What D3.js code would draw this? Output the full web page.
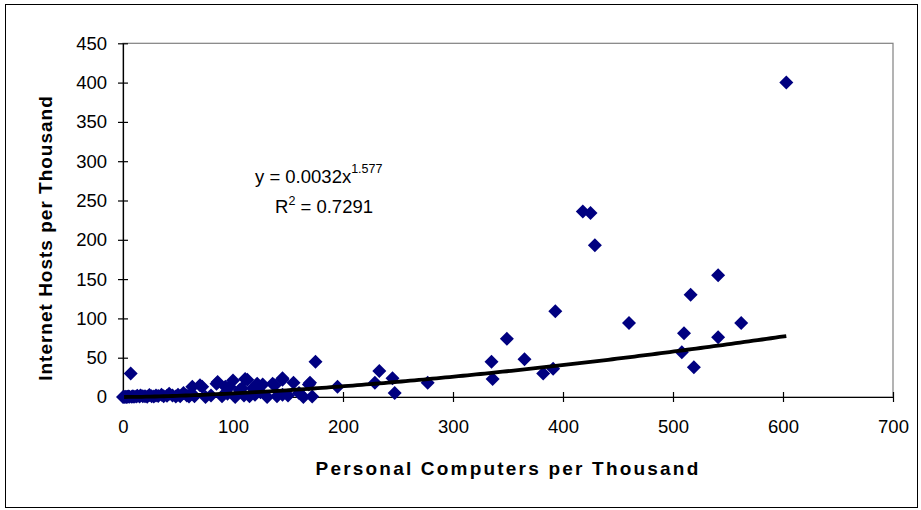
<!DOCTYPE html>
<html>
<head>
<meta charset="utf-8">
<script src="https://cdn.jsdelivr.net/npm/d3@7"></script>
<style>
  html, body { margin: 0; padding: 0; background: #fff; }
  svg { display: block; font-family: Arial, "Liberation Sans", sans-serif; }
</style>
</head>
<body>
<svg id="chart" width="921" height="510"></svg>
<script>
// ---- Data ----
const pcPerThousand = [
  0, 1, 2, 3, 4, 5, 6, 7, 8, 9, 10, 12, 13, 15, 16, 18, 20, 22, 24, 26, 28, 30, 32, 35, 37, 40, 42, 45, 48, 50, 52, 55, 58, 60, 62, 65,
  63, 70, 72, 75, 80, 85, 86, 90, 93, 95, 97, 100, 102, 106, 108, 110, 111, 113, 115, 118, 120, 122, 125, 127, 131, 136, 138, 140,
  145, 145, 145, 150, 155, 160, 164, 169, 170, 172, 175, 195,
  229, 233, 245, 247, 277, 335, 336, 349, 365, 382, 391, 393, 418, 425, 429, 460, 508, 510, 516, 519, 541, 541, 562, 603
];
const hostsPerThousand = [
  0, 0.1, 0.2, 0.1, 0.3, 0.5, 0.2, 30, 0.3, 1, 0.4, 0.5, 1.5, 0.6, 2, 0.8, 1, 0.4, 2.5, 1, 0.5, 2, 1.2, 3, 0.8, 1.5, 4, 2, 0.6, 3, 1, 5, 2, 0.5, 4, 1,
  13, 15, 13, 0, 2, 17, 19, 1, 13, 4, 13, 21, 0, 9, 11, 2, 23, 22, 1, 11, 3, 17, 6, 16, 0, 17, 15, 1,
  22, 24, 3, 2, 18, 5, 0, 16, 18, 0.5, 45, 13,
  18, 33, 24, 5, 18, 45, 23, 74, 48, 30, 36, 109, 236, 234, 193, 94, 57, 81, 130, 38, 155, 76, 94, 400
];
// Power trendline y = a * x^b, as printed on the chart
const trendA = 0.0032;
const trendB = 1.577;
const rSquared = "0.7291";
const xTicks = [0, 100, 200, 300, 400, 500, 600, 700];
const yTicks = [0, 50, 100, 150, 200, 250, 300, 350, 400, 450];
const xTitle = "Personal Computers per Thousand";
const yTitle = "Internet Hosts per Thousand";

// ---- Layout ----
const svg = d3.select("#chart");
const plot = { left: 123, right: 893, top: 43.3, bottom: 397 };

const x = d3.scaleLinear().domain([0, 700]).range([plot.left, plot.right]);
const y = d3.scaleLinear().domain([0, 450]).range([plot.bottom, plot.top]);

// outer chart border
svg.append("rect")
  .attr("x", 5.5).attr("y", 4.5)
  .attr("width", 912).attr("height", 503)
  .attr("fill", "#fff").attr("stroke", "#000").attr("stroke-width", 1);

// plot area border (gray)
svg.append("rect")
  .attr("x", plot.left).attr("y", plot.top)
  .attr("width", plot.right - plot.left).attr("height", plot.bottom - plot.top)
  .attr("fill", "none").attr("stroke", "#808080").attr("stroke-width", 1.2);

// axes with cross tick marks
const tickLen = 5;
const xAxis = svg.append("g").attr("transform", `translate(0,${plot.bottom})`)
  .call(d3.axisBottom(x).tickValues(xTicks).tickSizeInner(tickLen).tickSizeOuter(0).tickPadding(18));
const yAxis = svg.append("g").attr("transform", `translate(${plot.left},0)`)
  .call(d3.axisLeft(y).tickValues(yTicks).tickSizeInner(tickLen).tickSizeOuter(0).tickPadding(11));

[xAxis, yAxis].forEach(g => {
  g.select(".domain").attr("stroke", "#000").attr("stroke-width", 1.2);
  g.selectAll(".tick line").attr("stroke", "#000").attr("stroke-width", 1.2);
  g.selectAll(".tick text").attr("fill", "#000").style("font-size", "18.5px")
    .style("font-family", "Arial, 'Liberation Sans', sans-serif");
});
// make ticks cross the axis
xAxis.selectAll(".tick line").attr("y1", -tickLen).attr("y2", tickLen);
yAxis.selectAll(".tick line").attr("x1", -tickLen).attr("x2", tickLen);

// points
const pts = pcPerThousand.map((v, i) => ({ x: v, y: hostsPerThousand[i] }));
const r = 7;
svg.append("g").selectAll("path.pt").data(pts).join("path")
  .attr("class", "pt")
  .attr("d", `M0,${-r}L${r},0L0,${r}L${-r},0Z`)
  .attr("transform", d => `translate(${x(d.x)},${y(d.y)})`)
  .attr("fill", "#000080");

// trendline
const xMax = d3.max(pcPerThousand);
const trendX = d3.range(1, xMax, 4).concat([xMax]);
const line = d3.line().x(d => x(d)).y(d => y(trendA * Math.pow(d, trendB)));
svg.append("path").datum(trendX)
  .attr("d", line)
  .attr("fill", "none").attr("stroke", "#000").attr("stroke-width", 3.8)
  .attr("stroke-linejoin", "round");

// equation text
const eq = svg.append("text").attr("x", 255).attr("y", 183)
  .style("font-size", "18.5px").attr("fill", "#000");
eq.append("tspan").text(`y = ${trendA}x`);
eq.append("tspan").attr("dy", -10).style("font-size", "12.5px").text(trendB);
const r2 = svg.append("text").attr("x", 275).attr("y", 213)
  .style("font-size", "18.5px").attr("fill", "#000");
r2.append("tspan").text("R");
r2.append("tspan").attr("dy", -8).style("font-size", "12.5px").text("2");
r2.append("tspan").attr("dy", 8).text(` = ${rSquared}`);

// axis titles
svg.append("text")
  .attr("x", (plot.left + plot.right) / 2).attr("y", 475)
  .attr("text-anchor", "middle")
  .style("font-size", "19px").style("font-weight", "bold")
  .style("letter-spacing", "2.2px")
  .text(xTitle);
svg.append("text")
  .attr("transform", `translate(52,238) rotate(-90)`)
  .attr("text-anchor", "middle")
  .style("font-size", "19px").style("font-weight", "bold")
  .style("letter-spacing", "1px")
  .text(yTitle);
</script>
</body>
</html>
